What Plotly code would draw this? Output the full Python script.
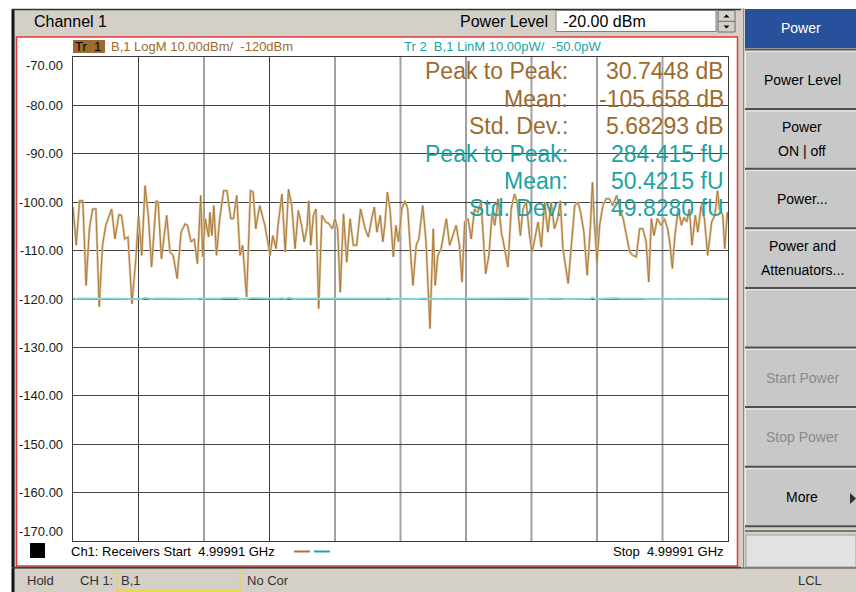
import plotly.graph_objects as go

W, H = 856, 592
def X(px): return px / W
def Y(py): return 1 - py / H

# ---------------- data ----------------
# sweep position in graticule divisions (0..10), trace 1 in dBm (B,1 LogM)
sweep_pos_div = [
    0.00, 0.05, 0.10, 0.15, 0.20, 0.25, 0.30, 0.35, 0.40, 0.45,
    0.50, 0.59, 0.64, 0.70, 0.74, 0.79, 0.84, 0.90, 0.96, 1.00,
    1.05, 1.10, 1.15, 1.20, 1.27, 1.30, 1.35, 1.43, 1.48, 1.53,
    1.59, 1.65, 1.71, 1.75, 1.80, 1.85, 1.90, 1.95, 1.98, 2.02,
    2.07, 2.09, 2.12, 2.15, 2.19, 2.24, 2.30, 2.35, 2.41, 2.45,
    2.50, 2.55, 2.59, 2.65, 2.71, 2.75, 2.79, 2.85, 2.93, 3.01,
    3.05, 3.10, 3.13, 3.19, 3.24, 3.29, 3.34, 3.39, 3.44, 3.49,
    3.53, 3.57, 3.60, 3.63, 3.67, 3.71, 3.75, 3.80, 3.86, 3.91,
    3.96, 4.00, 4.04, 4.08, 4.13, 4.18, 4.23, 4.28, 4.33, 4.39,
    4.46, 4.51, 4.56, 4.60, 4.64, 4.69, 4.73, 4.76, 4.80, 4.84,
    4.89, 4.93, 4.97,
    5.02, 5.07, 5.11, 5.16, 5.19, 5.24, 5.28,
    5.34, 5.39, 5.45, 5.50, 5.53, 5.57, 5.62, 5.70, 5.75, 5.80,
    5.85, 5.90, 5.94, 5.98, 6.03, 6.08, 6.13, 6.18, 6.23, 6.30,
    6.35, 6.40, 6.44, 6.49, 6.54, 6.58, 6.64, 6.69, 6.74, 6.78,
    6.83, 6.87, 6.92, 6.97, 7.01, 7.05, 7.10, 7.15, 7.20, 7.25,
    7.30, 7.35, 7.40, 7.44, 7.48, 7.56, 7.61, 7.66, 7.71, 7.75,
    7.80, 7.85, 7.90, 7.93, 7.96, 8.00, 8.04, 8.09, 8.14, 8.19,
    8.24, 8.30, 8.35, 8.40, 8.45, 8.50, 8.55, 8.60, 8.65, 8.70,
    8.75, 8.79, 8.83, 8.87, 8.92, 8.98, 9.03, 9.08, 9.11, 9.15,
    9.19, 9.24, 9.29, 9.33, 9.37, 9.41, 9.45, 9.50, 9.54, 9.59,
    9.64, 9.69, 9.75, 9.80, 9.84, 9.87, 9.92, 9.95, 9.99, 10.00,
]
trace1_dbm = [
    -101.0, -108.9, -99.7, -99.7, -117.2, -105.5, -101.4, -101.4, -121.6, -108.9,
    -104.8, -101.4, -107.6, -102.6, -102.7, -107.6, -107.2, -121.0, -111.7, -102.7,
    -111.0, -96.6, -102.7, -113.4, -99.7, -100.0, -111.7, -102.7, -110.3, -111.0,
    -115.8, -106.2, -104.5, -104.8, -108.2, -107.6, -112.7, -98.6, -111.3, -103.4,
    -107.2, -102.1, -106.9, -100.7, -111.0, -103.4, -97.6, -97.6, -103.4, -103.4,
    -98.6, -111.0, -108.9, -119.6, -97.6, -97.9, -105.5, -100.7, -104.8, -111.0,
    -106.9, -109.6, -104.8, -98.3, -110.3, -97.3, -100.7, -109.6, -101.7, -104.8,
    -108.2, -105.5, -99.7, -108.9, -102.7, -101.4, -122.0, -102.7, -104.1, -104.5,
    -105.5, -103.4, -105.5, -118.6, -102.4, -112.4, -103.4, -108.9, -108.9, -101.4,
    -105.5, -107.2, -103.4, -101.0, -106.2, -102.7, -108.2, -104.8, -97.9, -101.4,
    -111.3, -104.8, -108.2,
    -101.4, -99.7, -101.4, -111.7, -117.2, -108.9, -107.6,
    -100.7, -108.2, -126.1, -105.5, -117.2, -111.0, -109.6, -103.4, -108.9, -106.9,
    -104.8, -108.9, -116.5, -104.1, -103.4, -107.6, -101.4, -102.1, -100.0, -114.8,
    -111.0, -102.1, -104.8, -99.3, -106.2, -108.9, -113.4, -101.4, -98.3, -100.0,
    -106.9, -101.4, -100.0, -106.9, -110.3, -107.6, -104.1, -109.3, -100.0, -106.2,
    -100.0, -105.5, -103.4, -99.7, -109.6, -116.8, -108.2, -100.7, -100.0, -102.1,
    -106.2, -115.1, -104.8, -95.9, -104.1, -112.4, -104.8, -100.7, -99.3, -99.3,
    -100.7, -98.6, -101.4, -103.4, -106.9, -110.3, -111.0, -111.3, -105.5, -105.5,
    -108.2, -116.5, -103.4, -106.9, -103.4, -104.8, -103.4, -105.5, -108.2, -113.7,
    -106.9, -101.4, -104.8, -103.1, -104.1, -101.4, -108.9, -102.7, -106.2, -100.7,
    -103.4, -111.0, -104.1, -102.7, -97.6, -101.4, -102.7, -109.6, -102.1, -103.5,
]
# trace 2 is the same receiver B,1 shown in linear units (pW)
trace2_pw = [10 ** (v / 10) * 1e9 for v in trace1_dbm]

y_ticks = [-70, -80, -90, -100, -110, -120, -130, -140, -150, -160, -170]
y_tick_labels = ["-70.00", "-80.00", "-90.00", "-100.00", "-110.00", "-120.00",
                 "-130.00", "-140.00", "-150.00", "-160.00", "-170.00"]

tr1_ref_dbm = -120
tr2_ref_pw = -50.0

stat_names = ["Peak to Peak:", "Mean:", "Std. Dev.:", "Peak to Peak:", "Mean:", "Std. Dev.:"]
stat_values = ["30.7448 dB", "-105.658 dB", "5.68293 dB", "284.415 fU", "50.4215 fU", "49.8280 fU"]

softkey_labels = [["Power Level"], ["Power", "ON | off"], ["Power..."],
                  ["Power and", "Attenuators..."], [], ["Start Power"], ["Stop Power"], ["More"]]
softkey_enabled = [True, True, True, True, True, False, False, True]

# ---------------- styling ----------------
FONT = "Liberation Sans, Arial, sans-serif"
BROWN = "#9C6B2E"
TEAL = "#1CA3A3"
WIN_GRAY = "#D4D0C8"

fig = go.Figure()

fig.add_trace(go.Scatter(x=sweep_pos_div, y=trace1_dbm, mode="lines",
                         line=dict(color="#DBC29E", width=2.4), hoverinfo="skip", showlegend=False))
fig.add_trace(go.Scatter(x=sweep_pos_div, y=trace1_dbm, mode="lines",
                         line=dict(color="#A8742E", width=0.9), hoverinfo="skip", showlegend=False))
fig.add_trace(go.Scatter(x=sweep_pos_div, y=trace2_pw, mode="lines", yaxis="y2",
                         line=dict(color="#82D3D3", width=2), hoverinfo="skip", showlegend=False))
# reference position markers
fig.add_trace(go.Scatter(x=[-0.05], y=[tr1_ref_dbm], mode="markers", cliponaxis=False,
                         marker=dict(symbol="triangle-right", size=9, color=BROWN),
                         hoverinfo="skip", showlegend=False))
fig.add_trace(go.Scatter(x=[10.07], y=[tr1_ref_dbm], mode="markers", cliponaxis=False,
                         marker=dict(symbol="triangle-left", size=9, color=BROWN),
                         hoverinfo="skip", showlegend=False))
fig.add_trace(go.Scatter(x=[10.07], y=[tr2_ref_pw], mode="markers", yaxis="y2", cliponaxis=False,
                         marker=dict(symbol="triangle-left", size=9, color=TEAL),
                         hoverinfo="skip", showlegend=False))

shapes = []
ann = []

def rect(x0, y0, x1, y1, fill, line=None, lw=0, layer="below"):
    shapes.append(dict(type="rect", xref="paper", yref="paper",
                       x0=X(x0), x1=X(x1), y0=Y(y1), y1=Y(y0),
                       fillcolor=fill, line=dict(color=line or fill, width=lw), layer=layer))

def hline(x0, x1, y, color, w=1, layer="below"):
    shapes.append(dict(type="line", xref="paper", yref="paper", x0=X(x0), x1=X(x1),
                       y0=Y(y), y1=Y(y), line=dict(color=color, width=w), layer=layer))

def vline(x, y0, y1, color, w=1, layer="below"):
    shapes.append(dict(type="line", xref="paper", yref="paper", x0=X(x), x1=X(x),
                       y0=Y(y0), y1=Y(y1), line=dict(color=color, width=w), layer=layer))

def txt(x, y, s, size=13, color="#000", anchor="left"):
    ann.append(dict(x=X(x), y=Y(y), xref="paper", yref="paper", text=s, showarrow=False,
                    xanchor=anchor, yanchor="middle", font=dict(family=FONT, size=size, color=color)))

# window chrome
rect(12, 9, 745, 592, WIN_GRAY)
vline(13, 9, 592, "#151515", 3)
hline(12, 745, 9.5, "#303030", 1.5)
rect(16.5, 37, 737.5, 566, "#FFFFFF", "#E03A3A", 1.5)
hline(12, 745, 567.5, "#404040", 1.5)

# title bar
txt(32, 21, "Channel 1", 16, "#000")
txt(458, 21, "Power Level", 16, "#000")
rect(556, 10.5, 716, 31.5, "#FFFFFF", "#808080", 1)
txt(561, 21, "-20.00 dBm", 16, "#000")
rect(718, 10.5, 735, 32, WIN_GRAY, "#6a6a6a", 1)
hline(718, 735, 21.3, "#6a6a6a", 1)
shapes.append(dict(type="path", xref="paper", yref="paper", layer="above",
                   path=f"M {X(723.5)} {Y(17.5)} L {X(729.5)} {Y(17.5)} L {X(726.5)} {Y(14.5)} Z",
                   fillcolor="#000", line=dict(width=0)))
shapes.append(dict(type="path", xref="paper", yref="paper", layer="above",
                   path=f"M {X(723.5)} {Y(25.5)} L {X(729.5)} {Y(25.5)} L {X(726.5)} {Y(28.5)} Z",
                   fillcolor="#000", line=dict(width=0)))

# softkey panel
rect(741, 9, 856, 592, WIN_GRAY)
vline(743.5, 9, 568, "#8a8a8a", 1)
rect(745, 9, 856, 48, "#28519B")
txt(801, 28.5, "Power", 14, "#FFFFFF", "center")
hline(745, 856, 49.5, "#5a5a5a", 2)
key_top = 51
key_h = 59.6
for i, (lines, en) in enumerate(zip(softkey_labels, softkey_enabled)):
    t = key_top + i * key_h
    b = t + key_h - 2.5
    rect(745, t, 856, b, "#C8C8C8")
    hline(745, 856, t + 0.5, "#EDEDED", 1)
    vline(745.5, t, b, "#EDEDED", 1)
    hline(745, 856, b + 1, "#505050", 2)
    mid = (t + b) / 2
    n = len(lines)
    for j, s in enumerate(lines):
        yy = mid + (j - (n - 1) / 2) * 24
        txt(802, yy, s, 14, "#000" if en else "#8a8a8a", "center")
# "More" arrow
shapes.append(dict(type="path", xref="paper", yref="paper", layer="above",
                   path=f"M {X(850)} {Y(493)} L {X(856)} {Y(498.5)} L {X(850)} {Y(504)} Z",
                   fillcolor="#303030", line=dict(width=0)))
hline(745, 856, 531, "#5a5a5a", 1.5)
rect(746, 535, 856, 567, "#E2E2E2", "#A0A0A0", 1)

# status bar
hline(12, 856, 568, "#404040", 1)
txt(25, 580, "Hold", 13, "#303030")
txt(78, 580, "CH 1:", 13, "#303030")
rect(117, 569.5, 240, 590.5, WIN_GRAY, "#E6D648", 1.2)
txt(119, 580, "B,1", 13, "#303030")
txt(245, 580, "No Cor", 13, "#303030")
txt(810, 580, "LCL", 13, "#303030", "center")

# trace header
rect(73, 40, 105, 53, BROWN, layer="above")
txt(73, 46.5, "Tr\u00a0\u00a01", 13, "#000")
txt(109, 46.5, "B,1 LogM 10.00dBm/\u00a0\u00a0-120dBm", 13, BROWN)
txt(402, 46.5, "Tr\u00a02\u00a0\u00a0B,1 LinM 10.00pW/\u00a0\u00a0-50.0pW", 13, TEAL)

# footer
rect(30, 543, 45, 558, "#000000", layer="above")
txt(69, 551, "Ch1: Receivers Start\u00a0\u00a04.99991 GHz", 13, "#000")
hline(294, 310, 551.5, "#A8742E", 2, "above")
hline(314, 330, 551.5, TEAL, 2, "above")
txt(726, 551, "Stop\u00a0\u00a04.99991 GHz", 13, "#000", "right")

# statistics
for i, (nm, val) in enumerate(zip(stat_names, stat_values)):
    c = BROWN if i < 3 else TEAL
    yy = 71.5 + i * 27.35
    txt(570, yy, nm, 23, c, "right")
    txt(726, yy, val, 23, c, "right")

# vertical graticule lines (as rendered: alternating dark / light)
grid_dark_cols = [1, 3, 6, 8]
for k in range(1, 10):
    dark = k in grid_dark_cols
    shapes.append(dict(type="line", xref="x", yref="paper", x0=k, x1=k,
                       y0=Y(541), y1=Y(57), layer="below",
                       line=dict(color="#3E3E3E" if dark else "#A2A2A2", width=1 if dark else 2)))

# y tick labels
for v, lab in zip(y_ticks, y_tick_labels):
    shift = -8 if v == max(y_ticks) else (10 if v == min(y_ticks) else 0)
    ann.append(dict(x=X(65), y=v, xref="paper", yref="y", text=lab, showarrow=False,
                    xanchor="right", yanchor="middle", yshift=shift,
                    font=dict(family=FONT, size=13, color="#1A1A1A")))

fig.update_layout(
    width=W, height=H, margin=dict(l=0, r=0, t=0, b=0),
    paper_bgcolor="#FFFFFF", plot_bgcolor="#FFFFFF",
    showlegend=False, shapes=shapes, annotations=ann,
    xaxis=dict(domain=[X(73), X(728)], range=[0, 10], showgrid=False, zeroline=False,
               showticklabels=False, ticks="", showline=True, mirror=True,
               linecolor="#3A3A3A", linewidth=1, fixedrange=True),
    yaxis=dict(domain=[Y(541), Y(57)], range=[-170, -70], tick0=-170, dtick=10,
               showgrid=True, gridcolor="#454545", gridwidth=1, zeroline=False,
               showticklabels=False, ticks="", showline=True, mirror=True,
               linecolor="#3A3A3A", linewidth=1, fixedrange=True),
    yaxis2=dict(overlaying="y", range=[-50, 50], visible=False, fixedrange=True),
)

fig.write_html("out.html", config=dict(displayModeBar=False),
               post_script="document.body.style.margin='0';document.body.style.overflow='hidden';")
